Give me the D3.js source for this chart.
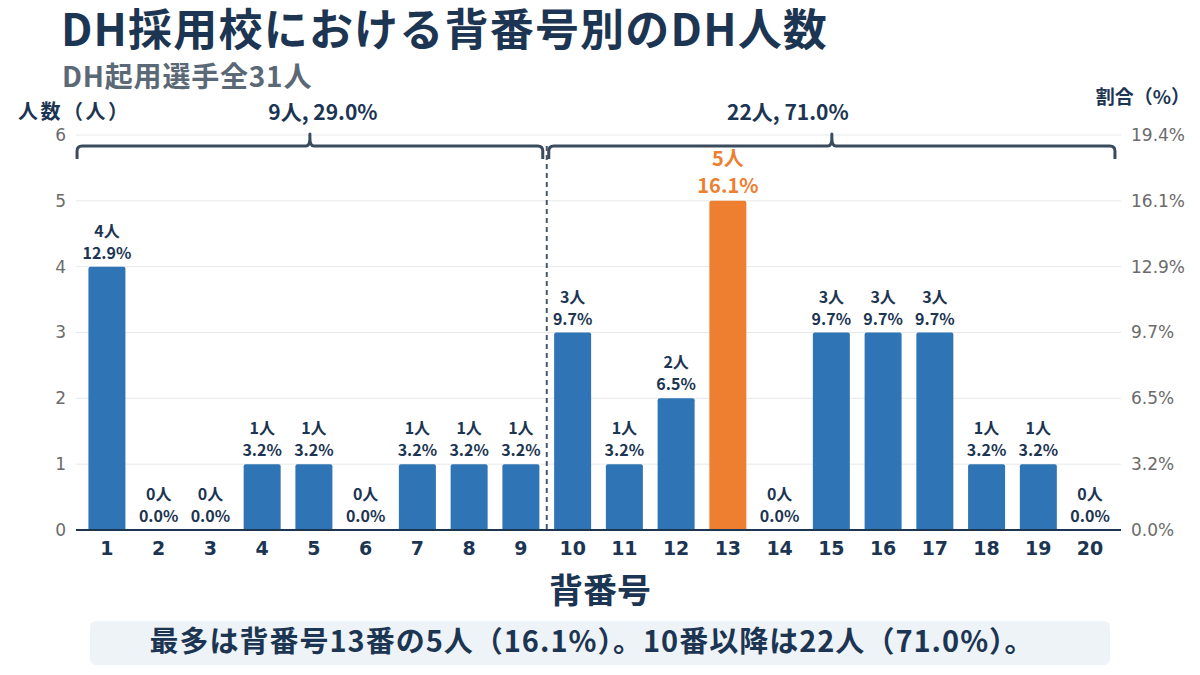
<!DOCTYPE html>
<html lang="ja">
<head>
<meta charset="UTF-8">
<title>DH採用校における背番号別のDH人数</title>
<script src="https://cdn.jsdelivr.net/npm/d3@7"></script>
<style>
  body { margin: 0; background: #fff; }
  svg { display: block; font-family: "Noto Sans CJK JP", "Noto Sans", sans-serif; }
</style>
</head>
<body>
<div id="chart"></div>
<script>
// data
const numbers = ["1","2","3","4","5","6","7","8","9","10","11","12","13","14","15","16","17","18","19","20"];
const counts = [4, 0, 0, 1, 1, 0, 1, 1, 1, 3, 1, 2, 5, 0, 3, 3, 3, 1, 1, 0];
const countTicks = [0, 1, 2, 3, 4, 5, 6];
const groups = [
  { from: "1", to: "9" },
  { from: "10", to: "20" }
];
const highlight = "13";

const W = 1200, H = 675;
const dark = "#1c3552";
const total = d3.sum(counts);
const pct = v => (v / total * 100).toFixed(1) + "%";

const svg = d3.select("#chart").append("svg")
  .attr("width", W).attr("height", H);

const x = d3.scaleBand().domain(numbers).range([76, 1121])
  .paddingInner(0.285).paddingOuter(0.24);
const y = d3.scaleLinear().domain([0, 6]).range([530, 135]);
const gapHalf = x.step() * x.paddingInner() / 2;

// titles
svg.append("text").attr("x", 61).attr("y", 46)
  .attr("font-size", 44).attr("font-weight", 700).attr("fill", dark)
  .attr("letter-spacing", 1.2)
  .text("DH採用校における背番号別のDH人数");
svg.append("text").attr("x", 62).attr("y", 87)
  .attr("font-size", 28).attr("font-weight", 700).attr("fill", "#5b6876")
  .attr("letter-spacing", 0.8)
  .text("DH起用選手全31人");

svg.append("text").attr("x", 18).attr("y", 119)
  .attr("font-size", 20).attr("font-weight", 700).attr("fill", dark)
  .attr("letter-spacing", 2.5)
  .text("人数（人）");
svg.append("text").attr("x", 1190).attr("y", 104).attr("text-anchor", "end")
  .attr("font-size", 19).attr("font-weight", 700).attr("fill", dark)
  .text("割合（%）");

// grid
svg.append("g").selectAll("line").data(countTicks.filter(d => d > 0)).join("line")
  .attr("x1", 76).attr("x2", 1121)
  .attr("y1", d => y(d)).attr("y2", d => y(d))
  .attr("stroke", "#e5e8eb").attr("stroke-width", 1);

// left axis
const yl = svg.append("g").attr("transform", "translate(76,0)")
  .call(d3.axisLeft(y).tickValues(countTicks).tickSize(0).tickPadding(10).tickFormat(d3.format("d")));
yl.select(".domain").remove();
yl.selectAll("text").attr("font-family", "DejaVu Sans").attr("font-size", 17).attr("fill", "#6b6b6b");

// right axis
const yr = svg.append("g").attr("transform", "translate(1121,0)")
  .call(d3.axisRight(y).tickValues(countTicks).tickSize(0).tickPadding(10).tickFormat(pct));
yr.select(".domain").remove();
yr.selectAll("text").attr("font-family", "DejaVu Sans").attr("font-size", 17).attr("fill", "#6b6b6b");

// bars
const rows = numbers.map((n, i) => ({ n, v: counts[i] }));
const r = 2;
svg.append("g").selectAll("path").data(rows.filter(d => d.v > 0)).join("path")
  .attr("d", d => {
    const x0 = x(d.n), x1 = x0 + x.bandwidth(), y0 = y(0), y1 = y(d.v);
    return `M${x0},${y0}V${y1 + r}Q${x0},${y1} ${x0 + r},${y1}H${x1 - r}Q${x1},${y1} ${x1},${y1 + r}V${y0}Z`;
  })
  .attr("fill", d => d.n === highlight ? "#ee7f30" : "#2f74b5");

// baseline
svg.append("line").attr("x1", 76).attr("x2", 1121).attr("y1", y(0)).attr("y2", y(0))
  .attr("stroke", dark).attr("stroke-width", 2);

// bar labels
const lab = svg.append("g").selectAll("g").data(rows).join("g")
  .attr("transform", d => `translate(${x(d.n) + x.bandwidth() / 2},${y(d.v)})`)
  .attr("text-anchor", "middle").attr("font-weight", 700);
lab.append("text").attr("y", d => d.n === highlight ? -35 : -30)
  .attr("font-size", d => d.n === highlight ? 20 : 16)
  .attr("fill", d => d.n === highlight ? "#ee7f30" : dark)
  .text(d => d.v + "人");
lab.append("text").attr("y", -8)
  .attr("font-size", d => d.n === highlight ? 20 : 16)
  .attr("fill", d => d.n === highlight ? "#ee7f30" : dark)
  .text(d => pct(d.v));

// x axis
const xa = svg.append("g").attr("transform", `translate(0,${y(0)})`)
  .call(d3.axisBottom(x).tickSize(0).tickPadding(12));
xa.select(".domain").remove();
xa.selectAll("text").attr("font-family", "DejaVu Sans").attr("font-weight", 700)
  .attr("font-size", 19).attr("fill", dark);

svg.append("text").attr("x", 600).attr("y", 603).attr("text-anchor", "middle")
  .attr("font-size", 34).attr("font-weight", 700).attr("fill", dark)
  .text("背番号");

// divider between groups
const divX = x(groups[1].from) - gapHalf;
svg.append("line").attr("x1", divX).attr("x2", divX).attr("y1", 146).attr("y2", y(0))
  .attr("stroke", "#4a5868").attr("stroke-width", 2).attr("stroke-dasharray", "5,4");

// braces
const labelShift = [13, -44];
groups.forEach((g, i) => {
  const fi = numbers.indexOf(g.from), ti = numbers.indexOf(g.to);
  const sum = d3.sum(counts.slice(fi, ti + 1));
  const x0 = i === 0 ? x(g.from) - gapHalf - 4 : divX + 2;
  const x1 = i === 0 ? divX - 4 : x(g.to) + x.bandwidth() + gapHalf - 1;
  const mid = (x0 + x1) / 2, yb = 146;
  svg.append("path")
    .attr("d", `M${x0},${yb + 13}V${yb + 5}Q${x0},${yb} ${x0 + 5},${yb}H${mid - 4}Q${mid},${yb} ${mid},${yb - 8}V${yb - 12}V${yb - 8}Q${mid},${yb} ${mid + 4},${yb}H${x1 - 5}Q${x1},${yb} ${x1},${yb + 5}V${yb + 13}`)
    .attr("fill", "none").attr("stroke", "#3b4b5e").attr("stroke-width", 3)
    .attr("stroke-linejoin", "round");
  svg.append("text").attr("x", mid + labelShift[i]).attr("y", 120)
    .attr("text-anchor", "middle").attr("font-size", 21).attr("font-weight", 700).attr("fill", dark)
    .text(`${sum}人, ${pct(sum)}`);
});

// summary box
svg.append("rect").attr("x", 90).attr("y", 621).attr("width", 1020).attr("height", 44)
  .attr("rx", 6).attr("fill", "#eef3f7");
svg.append("text").attr("x", 592).attr("y", 652).attr("text-anchor", "middle")
  .attr("font-size", 29).attr("font-weight", 700).attr("fill", dark)
  .attr("letter-spacing", 1)
  .text("最多は背番号13番の5人（16.1%）。10番以降は22人（71.0%）。");
</script>
</body>
</html>
